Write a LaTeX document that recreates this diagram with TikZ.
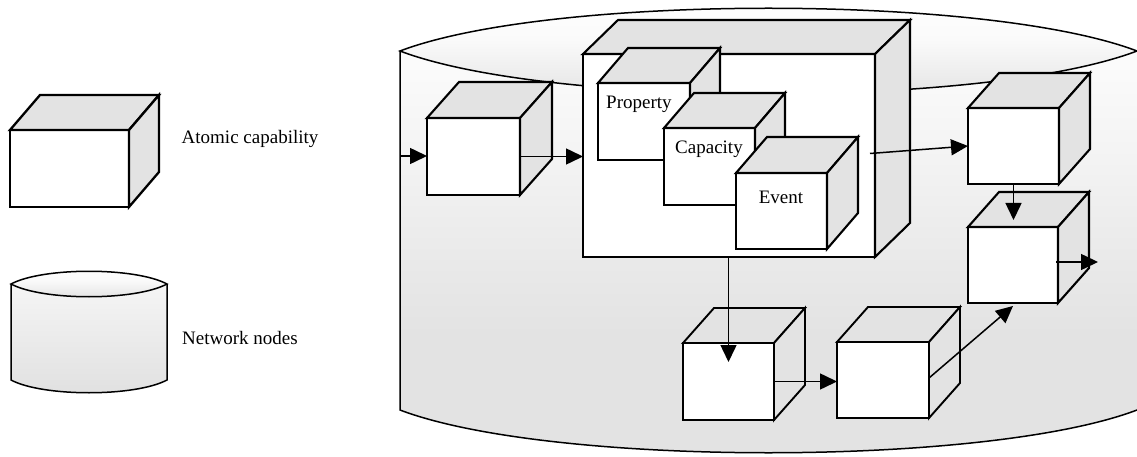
\documentclass[tikz,border=0pt]{standalone}
\usepackage{fontspec}
\setmainfont{Liberation Serif}
\usetikzlibrary{arrows.meta,calc}

\definecolor{facegray}{HTML}{E3E3E3}
\definecolor{cylA}{HTML}{E3E3E3}
\definecolor{cylB}{HTML}{EBEBEB}
\definecolor{cylC}{HTML}{F3F3F3}
\definecolor{cylD}{HTML}{FCFCFC}
\definecolor{lidA}{HTML}{DFDFDF}
\definecolor{lidB}{HTML}{EDEDED}
\definecolor{lidC}{HTML}{FAFAFA}

% body of the large can: grey below, fading to white towards the lid
\pgfdeclareverticalshading{canbody}{100bp}{color(0bp)=(cylA); color(41bp)=(cylA);
  color(52bp)=(cylB); color(62bp)=(cylC); color(75bp)=(cylD); color(100bp)=(cylD)}
% lid of a can: white on top, grey at its lower rim
\pgfdeclareverticalshading{canlid}{100bp}{color(0bp)=(lidA); color(25bp)=(lidA);
  color(40bp)=(lidB); color(55bp)=(lidC); color(75bp)=(white); color(100bp)=(white)}

\tikzset{
  cubefront/.style={draw, fill=white, anchor=north west, inner sep=0pt, outer sep=0pt},
  cubeface/.style={draw, fill=facegray},
  canline/.style={draw, line width=1.5pt},
  lbl/.style={font=\fontsize{19}{23}\selectfont, inner sep=0pt, anchor=base west},
  arr/.style={draw, line width=1.5pt, -{Triangle[length=17pt,width=16pt]}},
}

% #1 name, #2 #3 top-left of the front face, #4 width, #5 height,
% #6 #7 depth offset, #8 line width
\newcommand\boxcube[8]{%
  \node[cubefront, line width=#8, minimum width=#4pt, minimum height=#5pt] (#1) at (#2,#3) {};
  \draw[cubeface, line width=#8] (#1.north west) -- ++(#6,#7) -- ++(#4,0) -- (#1.north east) -- cycle;
  \draw[cubeface, line width=#8] (#1.north east) -- ++(#6,#7) -- ++(0,#5) -- (#1.south east) -- cycle;
}

\begin{document}
\begin{tikzpicture}[x=1pt, y=-1pt]
\useasboundingbox (0,0) rectangle (1137,457);
\clip (0,0) rectangle (1137,457);

% ---------- legend ----------
\boxcube{legcube}{10}{130}{119}{77}{30}{-35}{2.3pt}
\node[lbl] (atomtxt) at (181.5,143.3) {Atomic capability};

\path[top color=white!50!cylB, bottom color=cylB!90!gray]
  (11,284) -- (11,380) .. controls (43,397) and (135,397) .. (167,380) -- (167,284) -- cycle;
\draw[line width=1.5pt] (11,284) -- (11,380) .. controls (43,397) and (135,397) .. (167,380) -- (167,284);
\draw[line width=1.5pt, shading=canlid]
  (11,284) .. controls (43,267) and (135,267) .. (167,284)
           .. controls (135,301) and (43,301) .. (11,284) -- cycle;
\node[lbl] (nettxt) at (182,344) {Network nodes};

% ---------- the large can holding the capabilities ----------
\coordinate (canleft) at (400,156);
\path[shading=canbody]
  (400,51) -- (400,410) .. controls (550,467) and (987,467) .. (1137,410) -- (1137,51) -- cycle;
\draw[canline] (400,51) -- (400,410) .. controls (550,467) and (987,467) .. (1137,410);
\draw[canline, shading=canlid]
  (400,51) .. controls (550,-6) and (987,-6) .. (1137,51)
           .. controls (987,108) and (550,108) .. (400,51) -- cycle;

% ---------- capabilities ----------
\boxcube{first}{427}{118}{93}{77}{32}{-36}{2.1pt}
\boxcube{composite}{583}{54}{292}{203}{35}{-34}{2.1pt}
\boxcube{prop}{598}{83}{92}{77}{30}{-35}{2.1pt}
\boxcube{capa}{664}{128}{91}{77}{30}{-35}{2.1pt}
\boxcube{event}{736}{173}{91}{76}{31}{-36}{2.1pt}
\node[lbl] (proptxt) at (606,108.3) {Property};
\node[lbl] (capatxt) at (675,153.3) {Capacity};
\node[lbl, anchor=base] (eventtxt) at (781,204) {Event};

\boxcube{rtop}{968}{108}{91}{76}{31}{-35}{2.1pt}
\boxcube{rmid}{968}{227}{90}{76}{31}{-35}{2.1pt}
\boxcube{bleft}{683}{343}{91}{77}{31}{-35}{1.9pt}
\boxcube{bmid}{837}{342}{92}{76}{31}{-35}{1.9pt}

% ---------- flows ----------
\coordinate (exit) at ($(rmid.east)+(40,-3)$);
\draw[arr] (canleft) -- (canleft -| first.west);
\draw[arr] (first.east) -- (first.east -| composite.west);
\draw[arr] ($(composite.east)+(-5,-2)$) -- (rtop.west);
\draw[arr] (rtop.south) -- ($(rtop.south |- rmid.north)+(0,-7)$);
\draw[arr] ($(rmid.east)+(-2,-3)$) -- (exit);
\draw[arr] (bleft.north |- composite.south) -- ($(bleft.north)+(0,19)$);
\draw[arr] (bleft.east) -- (bleft.east -| bmid.west);
\draw[arr] ($(bmid.east)+(0,-2)$) -- ($(rmid.south)+(0,3)$);
\end{tikzpicture}
\end{document}
